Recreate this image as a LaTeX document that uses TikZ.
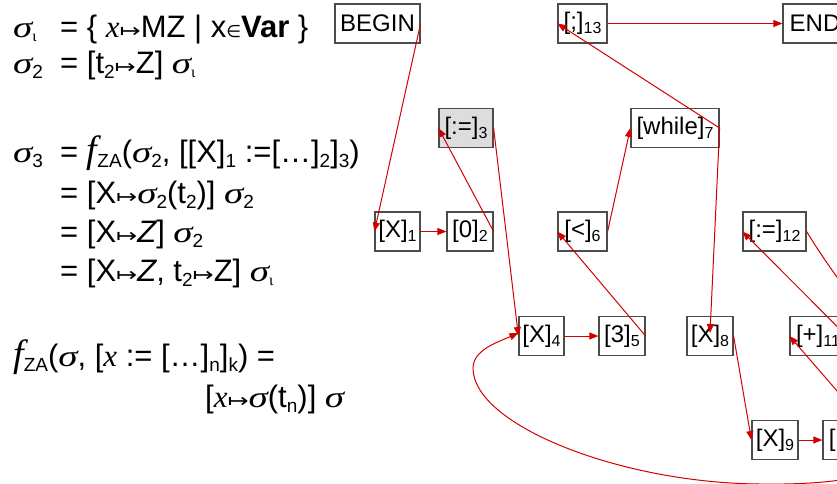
\documentclass[tikz,border=0pt]{standalone}
\usepackage{fontspec}
\setmainfont{Liberation Sans}
\newfontfamily\serif{Liberation Serif}
\newfontfamily\dvs{DejaVu Sans}
\usetikzlibrary{arrows.meta,calc}
\definecolor{edgered}{RGB}{210,0,0}
\definecolor{boxgray}{RGB}{221,221,221}
\newcommand\sg{\scalebox{1.3}[1]{\serif\itshape\fontsize{30}{30}\selectfont σ}}
\newcommand\sbs[1]{\raisebox{-5pt}{\fontsize{19}{19}\selectfont #1}}
\newcommand\bsb[1]{\raisebox{-4pt}{\fontsize{16}{16}\selectfont #1}}
\newcommand\io{\raisebox{-4pt}{\fontsize{16}{16}\selectfont\serif ι}}
\newcommand\mt{\scalebox{1.05}[0.8]{\dvs\fontsize{24}{24}\selectfont ↦}}
\newcommand\el{{\dvs\fontsize{17}{17}\selectfont ∈}}
\newcommand\fz{{\serif\itshape\fontsize{38}{38}\selectfont f}}
\newcommand\ix{{\serif\itshape x}}
\tikzset{
  txt/.style={anchor=base west, inner sep=0pt, font=\fontsize{31}{36}\selectfont},
  box/.style={draw=black!70, line width=1.2pt, fill=white, minimum height=39pt, inner sep=0pt, font=\fontsize{24}{28}\selectfont},
  arr/.style={draw=edgered, line width=1pt, -{Triangle[length=9pt,width=7pt]}}
}
\begin{document}
\begin{tikzpicture}[x=1pt,y=-1pt]
\useasboundingbox (0,0) rectangle (837,483);
\clip (0,0) rectangle (837,483);
% text
\node[txt] (l1a) at (13,37) {\sg\io};
\node[txt] (l1b) at (60,37) {= \{ \ix\mt MZ | x\el\textbf{Var} \}};
\node[txt] (l2a) at (13,73) {\sg\sbs{2}};
\node[txt] (l2b) at (60,73) {= [t\sbs{2}\mt Z] \sg\io};
\node[txt] (l3a) at (13,162) {\sg\sbs{3}};
\node[txt] (l3b) at (60,162) {= \fz\sbs{ZA}(\sg\sbs{2}, [[X]\sbs{1} :=[…]\sbs{2}]\sbs{3})};
\node[txt] (l4) at (60,203) {= [X\mt\sg\sbs{2}(t\sbs{2})] \sg\sbs{2}};
\node[txt] (l5) at (60,242) {= [X\mt{\itshape Z}] \sg\sbs{2}};
\node[txt] (l6) at (60,281) {= [X\mt{\itshape Z}, t\sbs{2}\mt Z] \sg\io};
\node[txt] (l7) at (13,366) {\fz\sbs{ZA}(\sg, [\ix\ := […]\sbs{n}]\sbs{k}) =};
\node[txt] (l8) at (205,407) {[\ix\mt\sg(t\sbs{n})] \sg};
% boxes
\node[box, minimum width=85pt] (begin) at (377.5,23.5) {BEGIN};
\node[box, minimum width=49pt] (sq13) at (582.5,23.5) {[;]\bsb{13}};
\node[box, minimum width=64pt] (end) at (815,23.5) {END};
\node[box, minimum width=54pt, fill=boxgray] (a3) at (466,128) {[:=]\bsb{3}};
\node[box, minimum width=88pt] (w7) at (675,128) {[while]\bsb{7}};
\node[box, minimum width=45pt] (x1) at (397.5,231.5) {[X]\bsb{1}};
\node[box, minimum width=46pt] (n2) at (470,231.5) {[0]\bsb{2}};
\node[box, minimum width=49pt] (lt6) at (582.5,231.5) {[<]\bsb{6}};
\node[box, minimum width=63pt] (a12) at (774.5,231.5) {[:=]\bsb{12}};
\node[box, minimum width=45pt] (x4) at (541.5,336) {[X]\bsb{4}};
\node[box, minimum width=46pt] (n5) at (622,336) {[3]\bsb{5}};
\node[box, minimum width=46pt] (x8) at (710,336) {[X]\bsb{8}};
\node[box, minimum width=56pt] (p11) at (818,336) {[+]\bsb{11}};
\node[box, minimum width=46pt] (x9) at (775,440) {[X]\bsb{9}};
\node[box, minimum width=56pt] (n10) at (851,440) {[1]\bsb{10}};
% edges
\draw[arr] (begin.east) -- (x1.west);
\draw[arr] (x1.east) -- (n2.west);
\draw[arr] (n2.east) -- (a3.west);
\draw[arr] (a3.east) -- (x4.west);
\draw[arr] (x4.east) -- (n5.west);
\draw[arr] (n5.east) -- (lt6.west);
\draw[arr] (lt6.east) -- (w7.west);
\draw[arr] (w7.east) -- ($(x8.center)+(0,-3)$);
\draw[arr] (w7.east) -- (sq13.west);
\draw[arr] (sq13.east) -- (end.west);
\draw[arr] (x8.east) -- (x9.west);
\draw[arr] (x9.east) -- (n10.west);
\draw[arr] (n10.east) -- (p11.west);
\draw[arr] (p11.east) -- (a12.west);
\draw[arr] (a12.east) .. controls (880,353) and (1040,488) .. (760,484)
  .. controls (620,483) and (473,425) .. (473,368)
  .. controls (473,350) and (498,342) .. ($(x4.west)+(0,-3)$);
\end{tikzpicture}
\end{document}
